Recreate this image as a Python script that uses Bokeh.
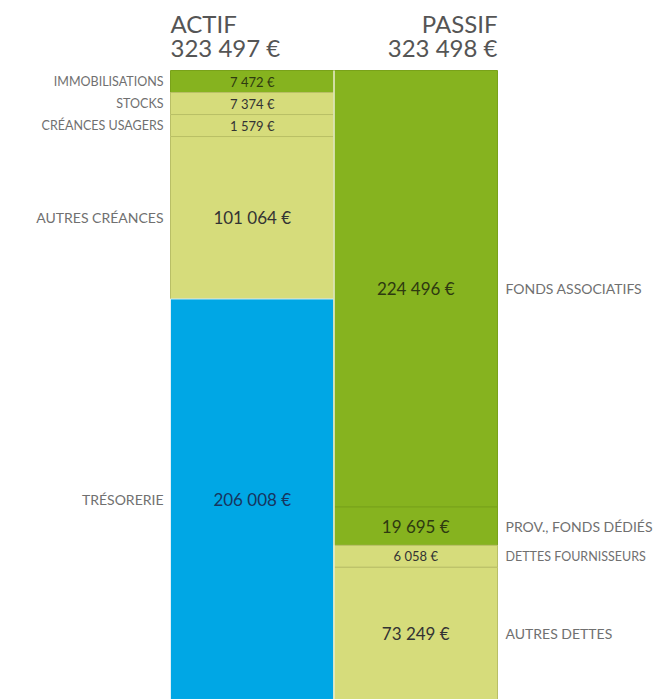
from bokeh.plotting import figure
from bokeh.models import Range1d, ColumnDataSource
from bokeh.core.properties import value
from bokeh.embed import file_html
from bokeh.resources import INLINE

# ---- data ----
actif_labels = ["IMMOBILISATIONS", "STOCKS", "CRÉANCES USAGERS", "AUTRES CRÉANCES", "TRÉSORERIE"]
actif_values = [7472, 7374, 1579, 101064, 206008]
actif_kinds = ["dark", "light", "light", "light", "blue"]

passif_labels = ["FONDS ASSOCIATIFS", "PROV., FONDS DÉDIÉS", "DETTES FOURNISSEURS", "AUTRES DETTES"]
passif_values = [224496, 19695, 6058, 73249]
passif_kinds = ["dark", "dark", "light", "light"]

headers = ["ACTIF", "PASSIF"]
header_totals = [323497, 323498]

# ---- styles ----
FILL = {"dark": "#86b31f", "light": "#d6dc7b", "blue": "#00a7e5"}
EDGE = {"dark": "#79a21a", "light": "#b9bf66", "blue": "#dff1f8"}
VALCOL = {"dark": "#2e3a10", "light": "#333333", "blue": "#17355f"}
FONT = "Lato"
MIN_FRAC = 0.035  # minimum visual height of a block, share of the column


def fmt(v):
    return f"{v:,}".replace(",", " ") + " €"


def layout(values, total):
    """Display heights: small blocks get a minimum height, the extra is taken from the next block."""
    floor = MIN_FRAC * total
    shown, carry = [], 0.0
    for v in values:
        h = v - carry
        carry = 0.0
        if h < floor:
            carry = floor - h
            h = floor
        shown.append(h)
    tops, bots, acc = [], [], 0.0
    for h in shown:
        tops.append(acc)
        acc += h
        bots.append(acc)
    return tops, bots, [v < floor for v in values]


TOTAL = max(sum(actif_values), sum(passif_values))

W, H = 667, 699
COL_PX = 163.5
BAR_TOP_PX = 70
x0 = -0.5 - 170 / COL_PX
y_top = -BAR_TOP_PX / (H - BAR_TOP_PX) * TOTAL

p = figure(width=W, height=H, output_backend="svg", toolbar_location=None,
           x_range=Range1d(x0, x0 + W / COL_PX), y_range=Range1d(TOTAL, y_top),
           min_border=0, outline_line_color=None)
p.axis.visible = False
p.grid.visible = False
p.background_fill_color = "white"
p.border_fill_color = "white"

for col, (labels, vals, kinds) in enumerate([(actif_labels, actif_values, actif_kinds),
                                             (passif_labels, passif_values, passif_kinds)]):
    tops, bots, small = layout(vals, sum(vals))
    src = ColumnDataSource(dict(
        left=[col - 0.5] * len(vals), right=[col + 0.5] * len(vals),
        top=tops, bottom=bots,
        fill=[FILL[k] for k in kinds], edge=[EDGE[k] for k in kinds],
        mid=[(t + b) / 2 for t, b in zip(tops, bots)],
        cx=[col] * len(vals),
        lx=[col - 0.5 if col == 0 else col + 0.5] * len(vals),
        label=labels, val=[fmt(v) for v in vals],
        vcol=[VALCOL[k] for k in kinds],
        vsize=["13px" if s else "17px" for s in small],
        lsize=["12.5px" if s else "14px" for s in small],
    ))
    p.quad(left="left", right="right", top="top", bottom="bottom", source=src,
           fill_color="fill", line_color="edge", line_width=1)
    p.text(x="cx", y="mid", text="val", source=src, text_align="center",
           text_baseline="middle", text_font=value(FONT), text_font_size="vsize",
           text_color="vcol")
    p.text(x="lx", y="mid", text="label", source=src,
           text_align="right" if col == 0 else "left",
           x_offset=-7 if col == 0 else 8,
           text_baseline="middle", text_font=value(FONT), text_font_size="lsize",
           text_color="#707070")

# column separator
p.segment(x0=[0.5], y0=[0], x1=[0.5], y1=[TOTAL], line_color="#eef1d2", line_width=1.5)

# headers
hx = [-0.5, 1.5]
for i, (h, t) in enumerate(zip(headers, header_totals)):
    align = "left" if i == 0 else "right"
    p.text(x=[hx[i]], y=[0], text=[h], text_align=align, text_baseline="alphabetic",
           y_offset=-47, text_font=value(FONT), text_font_size="24px", text_color="#555555")
    p.text(x=[hx[i]], y=[0], text=[fmt(t)], text_align=align, text_baseline="alphabetic",
           y_offset=-23, text_font=value(FONT), text_font_size="24px", text_color="#555555")

open("out.html", "w").write(file_html(p, INLINE))
